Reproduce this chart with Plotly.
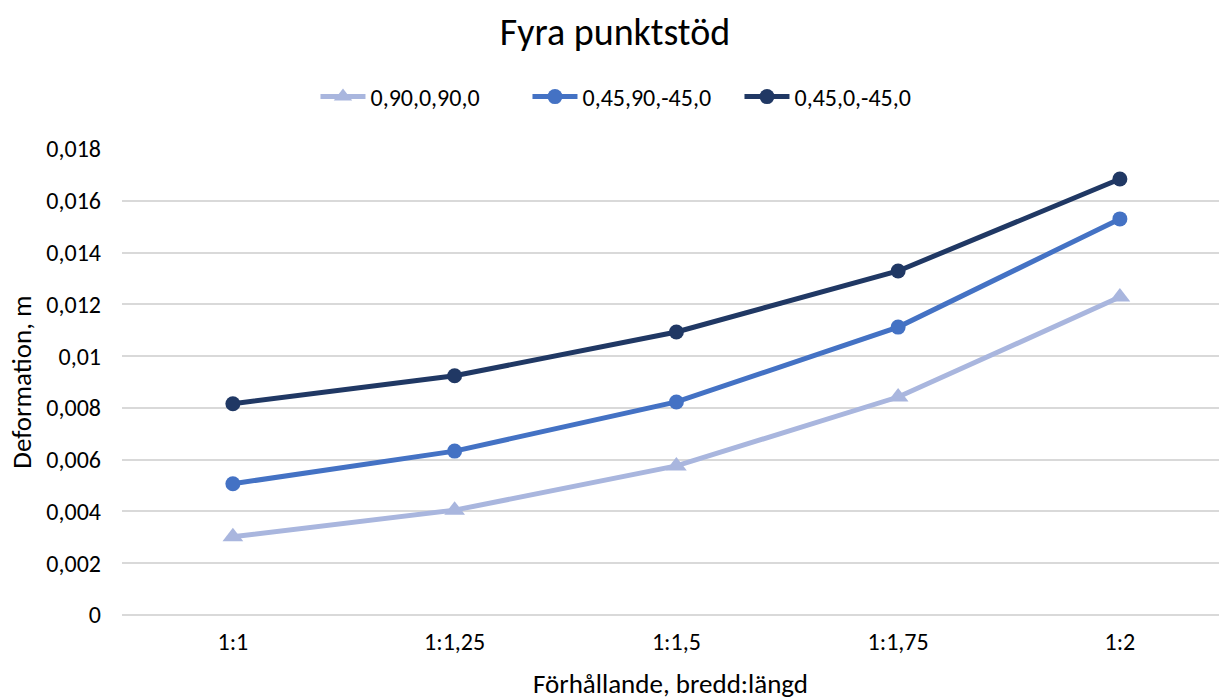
import plotly.graph_objects as go

categories = ["1:1", "1:1,25", "1:1,5", "1:1,75", "1:2"]
series_names = ["0,90,0,90,0", "0,45,90,-45,0", "0,45,0,-45,0"]
s1 = [0.00302, 0.00405, 0.00576, 0.00842, 0.01228]
s2 = [0.00507, 0.00633, 0.00823, 0.01112, 0.01530]
s3 = [0.00816, 0.00924, 0.01093, 0.01329, 0.01684]
y_tickvals = [0, 0.002, 0.004, 0.006, 0.008, 0.01, 0.012, 0.014, 0.016, 0.018]
y_ticktext = ["0", "0,002", "0,004", "0,006", "0,008", "0,01", "0,012", "0,014", "0,016", "0,018"]

colors = ["#A9B6DE", "#4472C4", "#203864"]
symbols = ["triangle-up", "circle", "circle"]
sizes = [18, 15, 15]
font = "Carlito, Lato, 'Open Sans', sans-serif"

fig = go.Figure()
for name, vals, c, sym, sz in zip(series_names, [s1, s2, s3], colors, symbols, sizes):
    fig.add_trace(go.Scatter(
        x=list(range(len(categories))), y=vals, name=name, mode="lines+markers",
        line=dict(color=c, width=5), marker=dict(symbol=sym, size=sz, color=c),
    ))

fig.update_layout(
    width=1219, height=700,
    paper_bgcolor="white", plot_bgcolor="white",
    margin=dict(l=122, r=0, t=149, b=85),
    font=dict(family=font, size=24, color="#000000"),
    title=dict(text="Fyra punktstöd", x=615/1219, xanchor="center", y=1-32/700, yanchor="middle",
               font=dict(size=38, family=font, color="#000000")),
    legend=dict(orientation="h", x=215/1219, xanchor="left", y=1+52/466, yanchor="middle",
                font=dict(size=24, family=font), traceorder="normal", tracegroupgap=0, itemwidth=45,
                entrywidth=152, entrywidthmode="pixels"),
    showlegend=True,
)
fig.update_xaxes(
    tickvals=list(range(len(categories))), ticktext=categories,
    range=[-0.5, 4.447], showgrid=False, zeroline=False, showline=False,
    ticks="", tickfont=dict(size=24), ticklabelstandoff=10,
    title=dict(text="Förhållande, bredd:längd", font=dict(size=27), standoff=19),
)
fig.update_yaxes(
    tickvals=y_tickvals, ticktext=y_ticktext, range=[0, 0.018],
    showgrid=True, gridcolor="#D9D9D9", gridwidth=1.5, zeroline=True, zerolinecolor="#D9D9D9", zerolinewidth=1.5,
    showline=False, ticks="", tickfont=dict(size=24), ticklabelstandoff=20,
    title=dict(text="Deformation, m", font=dict(size=27), standoff=6),
)

fig.write_html("out.html")
